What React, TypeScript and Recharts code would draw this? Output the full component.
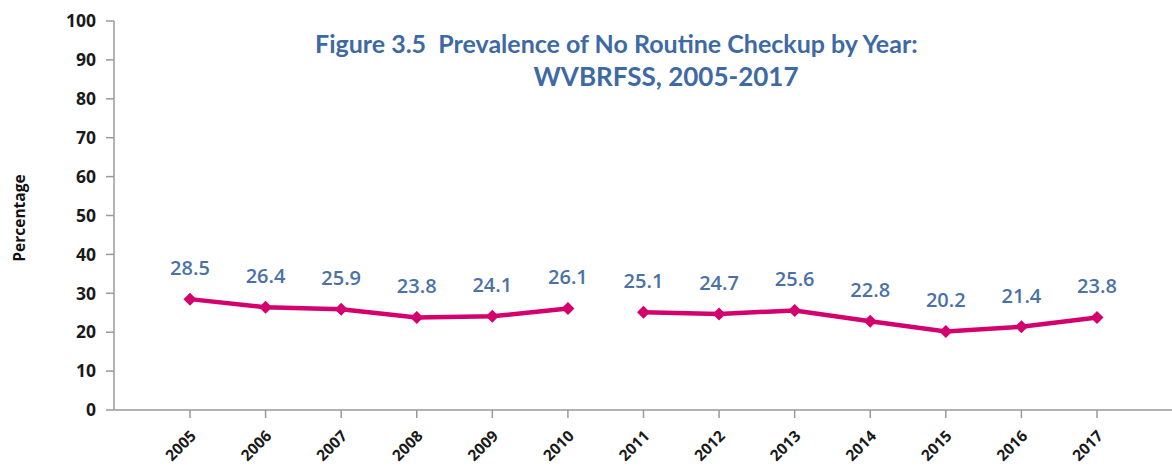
import { LineChart, Line, XAxis, YAxis, LabelList } from 'recharts';

const years = ['2005', '2006', '2007', '2008', '2009', '2010', '2011', '2012', '2013', '2014', '2015', '2016', '2017'];
// the survey series breaks between 2010 and 2011, so it is drawn as two lines
const firstPeriod = [28.5, 26.4, 25.9, 23.8, 24.1, 26.1];
const secondPeriod = [25.1, 24.7, 25.6, 22.8, 20.2, 21.4, 23.8];
const yTicks = [0, 10, 20, 30, 40, 50, 60, 70, 80, 90, 100];

const data = years.map((year, i) => ({
  year,
  early: i < firstPeriod.length ? firstPeriod[i] : null,
  late: i >= firstPeriod.length ? secondPeriod[i - firstPeriod.length] : null,
}));

const LINE_COLOR = '#d4006e';
const LABEL_COLOR = '#4a72a6';
const TITLE_COLOR = '#3d6aa5';
const AXIS_COLOR = '#9a9a9a';
const FONT = 'Open Sans, sans-serif';

const Diamond = (props: any) => {
  const { cx, cy, value } = props;
  if (cy == null || value == null || Number.isNaN(cy)) return null;
  const r = 6.5;
  return (
    <polygon
      points={`${cx},${cy - r} ${cx + r},${cy} ${cx},${cy + r} ${cx - r},${cy}`}
      fill={LINE_COLOR}
    />
  );
};

const ValueLabel = (props: any) => {
  const { x, y, value } = props;
  if (value == null || y == null) return null;
  return (
    <text x={x} y={y - 24} textAnchor="middle" fill={LABEL_COLOR} fontSize={20} fontWeight={600} fontFamily={FONT}>
      {value}
    </text>
  );
};

const YearTick = (props: any) => {
  const { x, y, payload } = props;
  const ax = x + 7;
  const ay = y + 17;
  return (
    <text
      x={ax}
      y={ay}
      transform={`rotate(-45, ${ax}, ${ay})`}
      textAnchor="end"
      fill="#1a1a1a"
      fontSize={15.5}
      fontWeight={700}
      fontFamily={FONT}
    >
      {payload.value}
    </text>
  );
};

const AxisTitle = () => (
  <text
    x={19}
    y={218}
    transform="rotate(-90, 19, 218)"
    textAnchor="middle"
    dominantBaseline="central"
    fill="#111"
    fontSize={15.5}
    fontWeight={700}
    fontFamily={FONT}
  >
    Percentage
  </text>
);

export default function App() {
  return (
    <div style={{ position: 'absolute', left: 0, top: 0, width: 1172, height: 470, background: '#fff' }}>
      <LineChart width={1172} height={470} data={data} margin={{ top: 21, right: 0, bottom: 0, left: 0 }}>
        <XAxis
          dataKey="year"
          padding={{ left: 76, right: 75 }}
          height={60}
          tickSize={8}
          stroke={AXIS_COLOR}
          strokeWidth={1.5}
          tick={<YearTick />}
          interval={0}
        />
        <YAxis
          domain={[0, 100]}
          ticks={yTicks}
          width={114}
          tickSize={8}
          tickMargin={10}
          stroke={AXIS_COLOR}
          strokeWidth={1.5}
          tick={{ fill: '#1a1a1a', fontSize: 17.5, fontWeight: 700, fontFamily: FONT }}
          label={{ content: <AxisTitle /> }}
        />
        <Line
          dataKey="early"
          stroke={LINE_COLOR}
          strokeWidth={4.5}
          dot={<Diamond />}
          activeDot={false}
          isAnimationActive={false}
        >
          <LabelList dataKey="early" content={<ValueLabel />} />
        </Line>
        <Line
          dataKey="late"
          stroke={LINE_COLOR}
          strokeWidth={4.5}
          dot={<Diamond />}
          activeDot={false}
          isAnimationActive={false}
        >
          <LabelList dataKey="late" content={<ValueLabel />} />
        </Line>
      </LineChart>
      <div
        style={{
          position: 'absolute',
          left: 315,
          top: 26,
          color: TITLE_COLOR,
          fontFamily: 'Lato, sans-serif',
          fontWeight: 700,
          fontSize: 25,
          whiteSpace: 'pre',
          lineHeight: '34px',
        }}
      >
        {'Figure 3.5  Prevalence of No Routine Checkup by Year:'}
      </div>
      <div
        style={{
          position: 'absolute',
          left: 666,
          top: 59,
          transform: 'translateX(-50%)',
          color: TITLE_COLOR,
          fontFamily: 'Lato, sans-serif',
          fontWeight: 700,
          fontSize: 26,
          whiteSpace: 'pre',
          lineHeight: '34px',
        }}
      >
        {'WVBRFSS, 2005-2017'}
      </div>
    </div>
  );
}
